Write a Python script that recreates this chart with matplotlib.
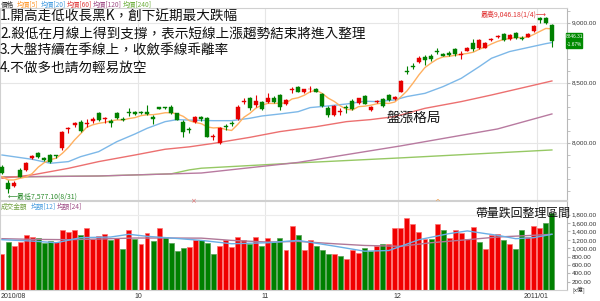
import numpy as np
import pandas as pd
import matplotlib
matplotlib.use('Agg')
from matplotlib import pyplot as plt

# 2010/08/30 - 2011/01/05 日K (TAIEX)
opens = [7800, 7667, 7639, 7772, 7772, 7875, 7911, 7869, 7897, 7894,
         7953, 8111, 8147, 8175, 8155, 8178, 8250, 8195, 8183, 8250,
         8200, 8253, 8258, 8253, 8258, 8217, 8295, 8294, 8300, 8244,
         8175, 8109, 8175, 8211, 8203, 8045, 7995, 8136, 8161, 8195,
         8336, 8369, 8314, 8342, 8336, 8375, 8394, 8322, 8442, 8467,
         8425, 8444, 8447, 8403, 8292, 8231, 8256, 8289, 8347, 8333,
         8388, 8272, 8340, 8364, 8397, 8364, 8425, 8597, 8636, 8670,
         8717, 8725, 8764, 8736, 8745, 8778, 8734, 8767, 8828, 8786,
         8792, 8853, 8881, 8903, 8864, 8911, 8875, 8883, 8931, 9036,
         9036, 8981]
highs = [7812, 7689, 7680, 7785, 7835, 7895, 7920, 7880, 7905, 7900,
         8100, 8133, 8175, 8189, 8195, 8211, 8258, 8217, 8195, 8258,
         8210, 8286, 8265, 8262, 8314, 8230, 8300, 8300, 8310, 8250,
         8190, 8133, 8225, 8225, 8215, 8072, 8130, 8155, 8183, 8310,
         8369, 8383, 8397, 8350, 8411, 8390, 8405, 8365, 8467, 8475,
         8450, 8472, 8455, 8410, 8305, 8315, 8286, 8314, 8360, 8375,
         8400, 8306, 8352, 8375, 8405, 8392, 8520, 8640, 8660, 8720,
         8730, 8735, 8790, 8750, 8760, 8790, 8760, 8795, 8860, 8860,
         8835, 8870, 8898, 8910, 8905, 8920, 8885, 8910, 8980, 9043,
         9046, 8988]
lows = [7738, 7577, 7630, 7710, 7765, 7860, 7870, 7845, 7830, 7875,
        7940, 8080, 8133, 8092, 8133, 8167, 8180, 8161, 8133, 8195,
        8180, 8222, 8230, 8240, 8230, 8156, 8280, 8282, 8240, 8185,
        8050, 8078, 8160, 8180, 8045, 8022, 7990, 8105, 8139, 8190,
        8322, 8272, 8300, 8270, 8328, 8330, 8272, 8310, 8417, 8420,
        8415, 8425, 8420, 8300, 8211, 8225, 8230, 8245, 8270, 8325,
        8320, 8260, 8330, 8300, 8350, 8355, 8420, 8570, 8610, 8665,
        8650, 8680, 8740, 8720, 8725, 8720, 8700, 8760, 8760, 8780,
        8785, 8845, 8875, 8850, 8858, 8862, 8855, 8878, 8925, 9000,
        8990, 8800]
closes = [7745, 7611, 7667, 7717, 7828, 7889, 7878, 7856, 7842, 7889,
          8092, 8125, 8161, 8100, 8161, 8194, 8189, 8200, 8161, 8203,
          8189, 8250, 8239, 8244, 8239, 8194, 8283, 8286, 8244, 8189,
          8092, 8103, 8211, 8195, 8050, 8053, 8120, 8131, 8153, 8300,
          8347, 8286, 8350, 8278, 8375, 8342, 8300, 8356, 8447, 8425,
          8444, 8447, 8425, 8306, 8231, 8306, 8261, 8286, 8278, 8369,
          8325, 8300, 8345, 8308, 8356, 8383, 8514, 8590, 8630, 8708,
          8689, 8697, 8753, 8725, 8731, 8736, 8738, 8786, 8778, 8856,
          8828, 8864, 8892, 8856, 8897, 8870, 8864, 8903, 8975, 9022,
          8995, 8846]
prev_closes = [7751, 7667, 7647, 7775]

# 成交金額 (億)
volumes = [863, 1146, 1049, 1146, 1308, 1267, 1243, 1122, 1170, 1146,
           1445, 1388, 1445, 1324, 1493, 1210, 1291, 1348, 1203, 1243,
           985, 1429, 1227, 1106, 1372, 1162, 1485, 1267, 1122, 944,
           1000, 1025, 1203, 1203, 1122, 863, 1041, 1203, 1025, 1267,
           1186, 1098, 1267, 1049, 1251, 1146, 1251, 968, 1534, 1324,
           968, 1186, 1041, 968, 863, 863, 807, 742, 968, 879,
           1009, 928, 1041, 1106, 1106, 1493, 1493, 1712, 1574, 1388,
           1227, 1211, 1590, 1429, 1251, 1445, 1364, 1227, 1510, 1146,
           985, 1308, 1332, 1186, 1106, 985, 1445, 1267, 1526, 1485,
           1607, 1833]
vol_up = [1, 0, 1, 1, 1, 1, 0, 0, 0, 1,
          1, 1, 1, 0, 1, 1, 1, 1, 0, 1,
          0, 1, 0, 1, 1, 0, 1, 0, 0, 0,
          0, 1, 1, 0, 0, 0, 1, 1, 1, 1,
          1, 0, 1, 0, 1, 0, 0, 1, 1, 0,
          1, 1, 0, 0, 0, 1, 0, 1, 1, 1,
          0, 0, 1, 0, 1, 1, 1, 1, 1, 1,
          1, 0, 1, 0, 1, 1, 1, 1, 1, 0,
          1, 1, 1, 0, 1, 0, 0, 1, 1, 1,
          0, 0]

# 均線 (讀圖取樣)
ma20_i = [0, 5, 8, 11, 13, 16, 19, 22, 24, 27, 29, 31, 35, 38, 41, 43, 46, 49,
          51, 54, 57, 60, 62, 65, 67, 70, 73, 76, 79, 81, 84, 87, 90, 91]
ma20_v = [7897, 7861, 7828, 7842, 7883, 7925, 8008, 8072, 8119, 8175, 8192, 8188,
          8183, 8183, 8203, 8222, 8239, 8258, 8292, 8306, 8322, 8345, 8342, 8356,
          8384, 8411, 8467, 8536, 8634, 8703, 8759, 8792, 8825, 8834]
ma60_i = [0, 5, 11, 16, 22, 27, 31, 35, 41, 46, 52, 57, 61, 65, 70, 76, 81, 87, 91]
ma60_v = [7703, 7731, 7786, 7842, 7897, 7945, 7965, 7994, 8044, 8092, 8133,
          8175, 8192, 8217, 8286, 8342, 8397, 8467, 8514]
ma120_i = [0, 16, 33, 49, 66, 82, 91]
ma120_v = [7714, 7722, 7747, 7835, 7973, 8114, 8239]
ma240_i = [0, 16, 28, 31, 33, 49, 66, 91]
ma240_v = [7714, 7722, 7740, 7773, 7787, 7831, 7873, 7939]

vma12_i = [0, 5, 9, 13, 18, 21, 24, 28, 33, 38, 44, 49, 55, 60, 64, 66, 69,
           74, 77, 80, 82, 85, 88, 91]
vma12_v = [1203, 1170, 1130, 1251, 1267, 1332, 1283, 1243, 1186, 1106, 1130,
           1186, 1049, 928, 944, 1045, 1203, 1348, 1413, 1348, 1308, 1227,
           1251, 1332]
vma24_i = [0, 5, 11, 16, 22, 27, 33, 38, 44, 49, 55, 60, 66, 71, 77, 82, 88, 91]
vma24_v = [1227, 1211, 1203, 1219, 1243, 1243, 1240, 1186, 1146, 1162, 1106,
           1065, 1045, 1130, 1203, 1267, 1308, 1332]

month_start = [23, 44, 66, 89]
month_labels = ['10', '11', '12', '2011/01']

RED = '#e60000'
GREEN = '#008000'
W, H = 600, 301
CJK = ['Noto Sans CJK TC', 'DejaVu Sans']
NUM = ['Liberation Sans', 'DejaVu Sans']


def rect(x0, y0, x1, y1):
    return [x0 / W, 1 - y1 / H, (x1 - x0) / W, (y1 - y0) / H]


def ftext(x, y, s, **kw):
    fig.text(x / W, 1 - y / H, s, **kw)


fig = plt.figure(figsize=(6.0, 3.01), dpi=100)
ax = fig.add_axes(rect(0, 8, 567, 200))
axv = fig.add_axes(rect(0, 201, 567, 290))

n = len(closes)
idx = np.arange(n)
o = np.array(opens)
c = np.array(closes)
up = c >= o

# 5日均線
ma5 = pd.Series(prev_closes + closes).rolling(5).mean().to_numpy()[4:]

for a in (ax, axv):
    a.set_xlim(-0.33, 93.5)
    for m in month_start:
        a.axvline(m - 0.5, color='#e6e6e6', lw=0.8, zorder=0)
    for s in ('top', 'left', 'bottom'):
        a.spines[s].set_color('#d0d0d0')
        a.spines[s].set_linewidth(0.8)
    a.spines['right'].set_color('#b8b8b8')
    a.spines['right'].set_linewidth(0.8)
    a.yaxis.tick_right()
    a.tick_params(axis='y', which='both', direction='out', length=2,
                  color='#b8b8b8', pad=1.5)
    a.tick_params(axis='x', length=0)
    a.set_xticks([])

# 價格
ax.set_ylim(7522, 9122)
for lv in (8000, 8500, 9000):
    ax.axhline(lv, color='#e6e6e6', lw=0.8, zorder=0)

ax.plot(ma240_i, ma240_v, color='#96c864', lw=1.0, zorder=2)
ax.plot(ma120_i, ma120_v, color='#b87aa0', lw=1.0, zorder=2)
ax.plot(ma60_i, ma60_v, color='#ec7070', lw=1.0, zorder=2)
ax.plot(ma20_i, ma20_v, color='#7db8e8', lw=1.0, zorder=2)
ax.plot(idx, ma5, color='#ffb060', lw=1.0, zorder=2)

cols = np.where(up, RED, GREEN)
ax.vlines(idx, lows, highs, colors=cols, lw=0.8, zorder=3)
body = np.maximum(np.abs(c - o), 7)
ax.bar(idx, body, bottom=np.minimum(o, c), width=0.66, color=cols,
       edgecolor=cols, linewidth=0.3, zorder=4)

ax.set_yticks([8000, 8500, 9000])
ax.set_yticks(np.arange(7600, 9101, 100), minor=True)
ax.set_yticklabels(['8,000.00', '8,500.00', '9,000.00'])
for t in ax.get_yticklabels():
    t.set_fontfamily(NUM)
    t.set_fontsize(4.6)
    t.set_color('#333333')

# 成交金額
v = np.array(volumes)
vcol = np.where(np.array(vol_up) == 1, '#f00000', GREEN)
vedge = np.where(np.array(vol_up) == 1, '#ff7070', '#55a055')
axv.set_ylim(0, 2128)
axv.axhline(1800, color='#ececec', lw=0.8, zorder=0)
axv.bar(idx, v, width=0.82, color=vcol, edgecolor=vedge, linewidth=0.5, zorder=2)
axv.plot(vma24_i, vma24_v, color='#b07898', lw=1.0, zorder=3)
axv.plot(vma12_i, vma12_v, color='#6aaee6', lw=1.0, zorder=3)
axv.set_yticks(np.arange(200, 1801, 200))
axv.set_yticklabels([f'{x:,.2f}' for x in np.arange(200, 1801, 200)])
for t in axv.get_yticklabels():
    t.set_fontfamily(NUM)
    t.set_fontsize(4.6)
    t.set_color('#333333')

# 圖例
leg = [('價格', '#333333', 1), ('均價[5]', '#ff9a30', 17), ('均價[20]', '#4a9ee0', 41),
       ('均價[60]', '#e04040', 67), ('均價[120]', '#a05088', 93), ('均價[240]', '#70b040', 123)]
for s, col, x in leg:
    ftext(x, 5, s, color=col, fontsize=4.8, family=CJK, va='center')
vleg = [('成交金額', '#70a040', 1), ('均額[12]', '#4a9ee0', 31), ('均額[24]', '#a05088', 57)]
for s, col, x in vleg:
    ftext(x, 207, s, color=col, fontsize=4.8, family=CJK, va='center')

# x 軸標籤
ftext(1, 297, '2010/08', fontsize=5.0, family=NUM, va='center', color='#333333')
for m, lab in zip(month_start, month_labels):
    xp = 2 + 6.04 * (m - 0.5)
    ftext(xp, 297, lab, fontsize=5.0, family=NUM, va='center', ha='center',
          color='#333333')
ftext(572, 289.5, '[x億]', fontsize=4.2, family=CJK, va='center', color='#333333')

# 最高/最低
ftext(547, 15, '最高9,046.18(1/4)⟶', fontsize=5.0, family=CJK, va='center',
      ha='right', color='#e03030')
ftext(8, 197, '⟵最低7,577.10(8/31)', fontsize=5.0, family=CJK, va='center',
      color='#2a8a2a')

# 收盤價標籤
fig.patches.append(plt.Rectangle((566 / W, 1 - 48 / H), 16 / W, 15 / H,
                                 transform=fig.transFigure, color='#008a00'))
ftext(574, 37, '8846.31', fontsize=3.4, family=NUM, color='white', ha='center', va='center')
ftext(574, 44, '-1.67%', fontsize=3.4, family=NUM, color='white', ha='center', va='center')

# 註解
notes = ['1.開高走低收長黑K，創下近期最大跌幅',
         '2.殺低在月線上得到支撐，表示短線上漲趨勢結束將進入整理',
         '3.大盤持續在季線上，收斂季線乖離率',
         '4.不做多也請勿輕易放空']
for k, s in enumerate(notes):
    ftext(0, 17 + 17 * k, s, fontsize=9.8, family=CJK, va='center', color='#111111')
ftext(387, 118, '盤漲格局', fontsize=9.8, family=CJK, va='center', color='#111111')
ftext(475, 213, '帶量跌回整理區間', fontsize=8.6, family=CJK, va='center', color='#111111')

ftext(193, 201, '×', fontsize=5, color='#e07070', ha='center', va='center')
ftext(437, 202, '^', fontsize=5, color='#f0a050', ha='center', va='center')

fig.savefig('out.png', dpi=100)
